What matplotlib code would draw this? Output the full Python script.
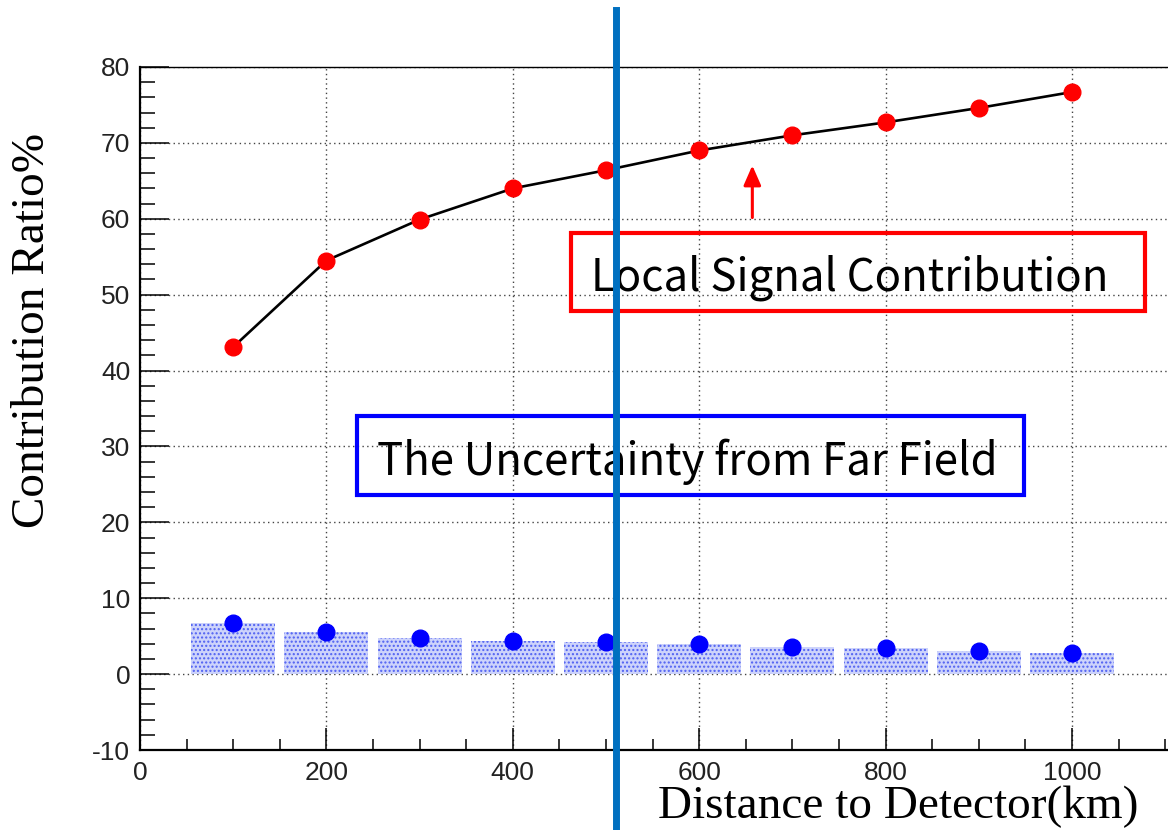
import matplotlib
matplotlib.use("Agg")
import matplotlib.pyplot as plt
from matplotlib.patches import Rectangle, FancyArrowPatch
from matplotlib.ticker import MultipleLocator

# Distances to the detector (km)
distance_km = [100, 200, 300, 400, 500, 600, 700, 800, 900, 1000]
# Contribution ratio of the local signal (%)
local_ratio = [43.1, 54.5, 59.9, 64.0, 66.4, 69.0, 71.0, 72.7, 74.6, 76.7]
# Uncertainty contributed by the far field (%)
far_uncertainty = [6.7, 5.5, 4.8, 4.4, 4.2, 4.0, 3.6, 3.4, 3.0, 2.8]

x_label = "Distance to Detector(km)"
y_label = "Contribution Ratio%"
local_text = "Local Signal Contribution"
far_text = "The Uncertainty from Far Field"
marker_km = 511

plt.rcParams["axes.unicode_minus"] = False
plt.rcParams["font.family"] = ["Liberation Sans", "DejaVu Sans"]

W, H = 1168, 830
fig = plt.figure(figsize=(W / 100, H / 100), dpi=100)
ax = fig.add_axes([140 / W, (H - 750) / H, (W - 140) / W, (750 - 67) / H])

ax.set_xlim(0, 1103)
ax.set_ylim(-10, 80)

# far-field uncertainty bars with a dotted fill
ax.bar(distance_km, far_uncertainty, width=90, facecolor="#cdd3fb",
       edgecolor="#4f60f2", linewidth=0, hatch="....", zorder=2)
ax.plot(distance_km, far_uncertainty, "o", color="#0000ff", markersize=12,
        zorder=4)

# local signal curve
ax.plot(distance_km, local_ratio, "-", color="black", linewidth=1.9, zorder=3)
ax.plot(distance_km, local_ratio, "o", color="#ff0000", markersize=12,
        zorder=4)

# axes styling
ax.xaxis.set_major_locator(MultipleLocator(200))
ax.xaxis.set_minor_locator(MultipleLocator(50))
ax.yaxis.set_major_locator(MultipleLocator(10))
ax.yaxis.set_minor_locator(MultipleLocator(2))
ax.grid(True, which="major", linestyle=(0, (1, 2.4)), color="#444444",
        linewidth=1.0, zorder=1)
ax.set_axisbelow(True)
for side in ("left", "bottom"):
    ax.spines[side].set_linewidth(1.6)
ax.spines["top"].set_linewidth(1.0)
ax.spines["right"].set_visible(False)

ax.tick_params(axis="x", which="major", direction="in", length=15.5,
               width=1.1, pad=8, labelsize=19, labelcolor="#222222")
ax.tick_params(axis="x", which="minor", direction="in", length=7.8, width=1.1)
ax.tick_params(axis="y", which="major", direction="in", length=21,
               width=1.1, pad=7, labelsize=19, labelcolor="#222222")
ax.tick_params(axis="y", which="minor", direction="in", length=10.5, width=1.1)
ax.tick_params(top=False, right=False, which="both")

# axis titles
fig.text(1138 / W, (H - 818) / H, x_label, family="Liberation Serif",
         fontsize=34, ha="right", va="baseline")
fig.text(33 / W, (H - 133) / H, y_label, family="Liberation Serif",
         fontsize=34, rotation=90, ha="center", va="top")

# annotation boxes
box_font = ["Noto Sans CJK SC", "DejaVu Sans"]
ax.add_patch(Rectangle((462.6, 47.8), 616.1, 10.3, fill=False,
                       edgecolor="#ff0000", linewidth=3, zorder=5))
ax.text(762, 50.6, local_text, family=box_font, fontsize=31.5,
        fontweight="light", ha="center", va="baseline", zorder=5)
ax.add_patch(Rectangle((232.9, 23.6), 715.9, 10.4, fill=False,
                       edgecolor="#0000ff", linewidth=3, zorder=5))
ax.text(587.6, 26.3, far_text, family=box_font, fontsize=31.5,
        fontweight="light", ha="center", va="baseline", zorder=5)

# arrow pointing at the local signal curve
ax.add_patch(FancyArrowPatch((657, 59.8), (657, 67.4),
                             arrowstyle="-|>,head_length=8,head_width=3.5",
                             color="#ff0000", linewidth=2.2,
                             mutation_scale=1.5, zorder=5))

# vertical marker across the whole figure
ax.axvline(marker_km, ymin=(750 - 830) / 683, ymax=(750 - 10) / 683,
           color="#0070c0", linewidth=5, clip_on=False, zorder=10)

fig.savefig("out.png", dpi=100)
